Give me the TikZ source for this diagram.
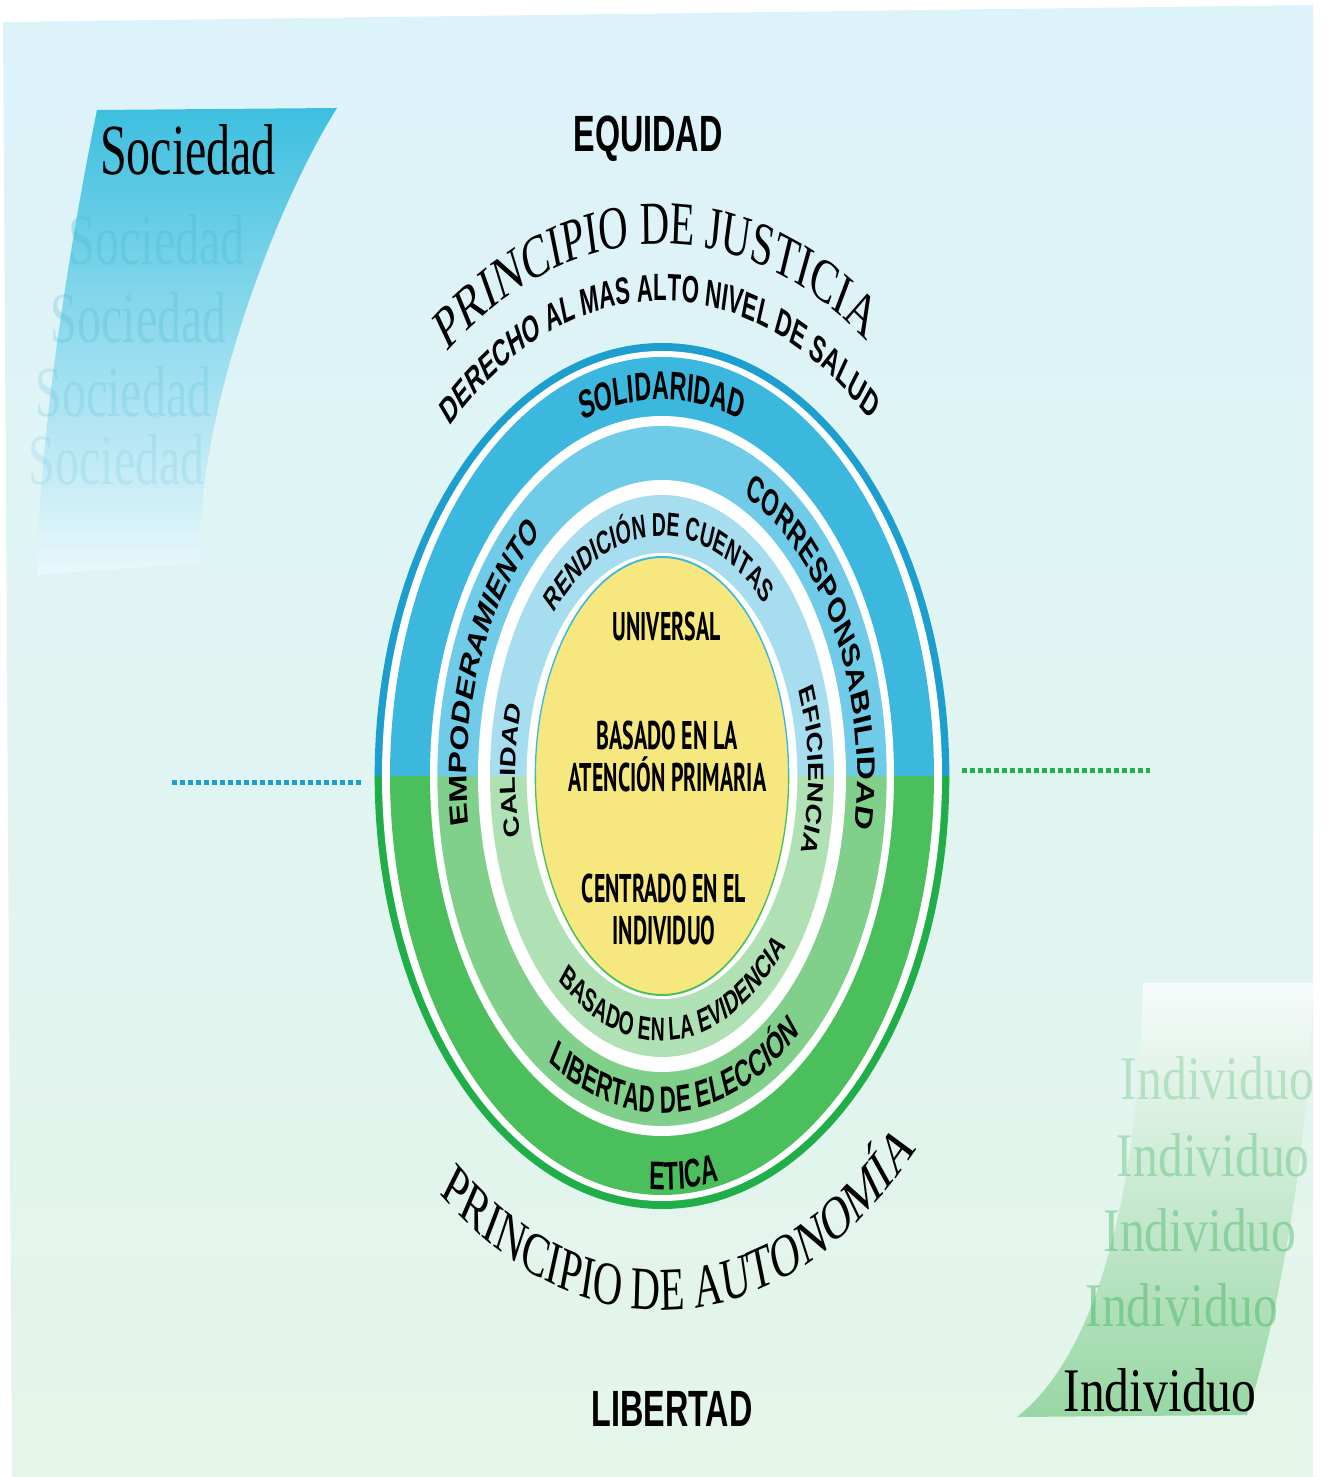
\documentclass[tikz,border=0pt]{standalone}
\usepackage{fontspec}
\setmainfont{Liberation Serif}
\newfontfamily\labelfont[FakeStretch=0.88]{Liberation Sans}
\newfontfamily\titlefont[FakeStretch=0.95]{Liberation Sans}
\newfontfamily\corefont[FakeStretch=0.82]{PT Sans}
\usetikzlibrary{decorations.text}

\definecolor{skytop}{HTML}{DCF3FA}
\definecolor{mist}{HTML}{F6FBFB}
\definecolor{meadow}{HTML}{E4F5E9}
\definecolor{lineblue}{HTML}{1C9ECF}
\definecolor{bandblue}{HTML}{3CB8DF}
\definecolor{skyband}{HTML}{6FCBE7}
\definecolor{paleblue}{HTML}{A6DDEF}
\definecolor{linegreen}{HTML}{1FAE47}
\definecolor{bandgreen}{HTML}{4CBF5D}
\definecolor{leafband}{HTML}{80D08B}
\definecolor{palegreen}{HTML}{B0E1B5}
\definecolor{yolk}{HTML}{F6E87E}
\definecolor{socblue}{HTML}{3DBFDF}
\definecolor{socmid}{HTML}{8CD6EA}
\definecolor{socghost}{HTML}{4AB6D4}
\definecolor{indgreen}{HTML}{98D7A4}
\definecolor{indghost}{HTML}{4DB86B}

% fonts for the curved labels
\newcommand\bandfont{\labelfont\bfseries\fontsize{40}{40}\selectfont}
\newcommand\midfont{\labelfont\bfseries\fontsize{38}{38}\selectfont}
\newcommand\innerfont{\labelfont\bfseries\fontsize{33}{33}\selectfont}
\newcommand\healthfont{\labelfont\bfseries\fontsize{38}{38}\selectfont}
\newcommand\principlefont{\rmfamily\fontsize{61}{61}\selectfont}

% #1 font, #2 text, #3 start angle, #4 end angle, #5 x radius, #6 y radius
\newcommand\ringtext[6]{%
	\path[decorate, decoration={text along path, text align=center, text={|#1|#2}}]
		(#3:#5 and #6) arc[start angle=#3, end angle=#4, x radius=#5, y radius=#6];}

% nested bands, drawn once for each half
\newcommand\ringstack[5]{%
	\fill[#1] (0,0) ellipse [x radius=431, y radius=433];
	\fill[white] (0,0) ellipse [x radius=420, y radius=425];
	\fill[#2] (0,0) ellipse [x radius=408, y radius=419];
	\fill[white] (0,0) ellipse [x radius=348, y radius=360];
	\fill[#3] (0,0) ellipse [x radius=337, y radius=350];
	\fill[white] (0,0) ellipse [x radius=276, y radius=296];
	\fill[#4] (0,0) ellipse [x radius=258, y radius=281];
	\fill[white] (0,0) ellipse [x radius=203, y radius=223];
	\filldraw[fill=yolk, draw=#5, line width=2pt] (0,0) ellipse [x radius=190, y radius=219];}

\begin{document}
\begin{tikzpicture}[x=1pt, y=1pt,
	core/.style={font=\corefont\bfseries\fontsize{40}{42}\selectfont, align=center},
	title/.style={font=\titlefont\bfseries\fontsize{51}{51}\selectfont},
	soc/.style={font=\fontsize{72}{72}\selectfont},
	ind/.style={font=\fontsize{62}{62}\selectfont, xscale=1.2},
	dots/.style={line width=5pt, dash pattern=on 7.5pt off 4.5pt}]

	\useasboundingbox (-662,-701) rectangle (665,776);
	\begin{scope}[transform canvas={xscale=0.66667}]

		% card
		\shade[top color=skytop, middle color=mist, bottom color=meadow]
			(-988.5,754) -- (976.5,771) -- (976.5,-701) -- (-975,-701) -- cycle;

		% side ribbons
		\shade[top color=socblue, middle color=socmid, bottom color=skytop!60!white]
			(-847.5,666) -- (-487.5,668) .. controls (-580,570) and (-700,360) .. (-693,213)
			-- (-937.5,201) .. controls (-935,350) and (-880,560) .. cycle;
		\shade[top color=mist, middle color=indgreen!55!mist, bottom color=indgreen]
			(721.5,-207) -- (976.5,-207) .. controls (975,-330) and (935,-520) .. (877.5,-639)
			-- (532.5,-641) .. controls (650,-580) and (715,-420) .. cycle;

		\foreach \x/\y/\o [count=\i] in {-758/536/0.3, -785/458/0.26, -808/384/0.2, -818/316/0.15}
			\node[soc, text=socghost, opacity=\o] (socghost\i) at (\x,\y) {Sociedad};
		\node[soc] (soc) at (-711,626) {Sociedad};

		\foreach \x/\y/\o [count=\i] in {780/-529/0.5, 807/-454/0.45, 827/-379/0.38, 833/-302/0.3}
			\node[ind, text=indghost, opacity=\o] (indghost\i) at (\x,\y) {Individuo};
		\node[ind] (indiv) at (747,-614) {Individuo};

		% dotted split
		\coordinate (wl) at (-735,-7);
		\coordinate (wr) at (-450,-7);
		\coordinate (el) at (450,5);
		\coordinate (er) at (732,5);
		\draw[dots, lineblue] (wl) -- (wr);
		\draw[dots, linegreen] (el) -- (er);

		% rings: blue above, green below
		\begin{scope}
			\clip (-500,-1) rectangle (500,500);
			\ringstack{lineblue}{bandblue}{skyband}{paleblue}{bandblue}
		\end{scope}
		\begin{scope}
			\clip (-500,-1) rectangle (500,-500);
			\ringstack{linegreen}{bandgreen}{leafband}{palegreen}{bandgreen}
		\end{scope}

		\node[core] (univ) at (7,149) {UNIVERSAL};
		\node[core] (aps) at (8,19) {BASADO EN LA\\ATENCIÓN PRIMARIA};
		\node[core] (person) at (3,-133) {CENTRADO EN EL\\INDIVIDUO};

		\node[title] (equidad) at (-21,637) {EQUIDAD};
		\node[title] (libertad) at (15,-633) {LIBERTAD};

		% labels along the rings
		\ringtext{\principlefont}{PRINCIPIO DE JUSTICIA}{171}{11}{532}{532}
		\ringtext{\healthfont}{DERECHO AL MAS ALTO NIVEL DE SALUD}{170.5}{10.5}{471}{475}
		\ringtext{\bandfont}{SOLIDARIDAD}{160}{20}{364}{376}
		\ringtext{\midfont}{CORRESPONSABILIDAD}{108.4}{-51.6}{293}{309.5}
		\ringtext{\midfont}{EMPODERAMIENTO}{238}{78}{293}{309.5}
		\ringtext{\innerfont}{RENDICIÓN DE CUENTAS}{171.4}{11.4}{219.5}{240}
		\ringtext{\innerfont}{CALIDAD}{258.6}{98.6}{219.5}{240}
		\ringtext{\innerfont}{EFICIENCIA}{81.5}{-78.5}{219.5}{240}
		\ringtext{\innerfont}{BASADO EN LA EVIDENCIA}{195}{355}{243}{265}
		\ringtext{\midfont}{LIBERTAD DE ELECCIÓN}{194}{354}{320}{337}
		\ringtext{\bandfont}{ETICA}{214.7}{334.7}{399}{414}
		\ringtext{\principlefont}{PRINCIPIO DE AUTONOMÍA}{193.5}{353.5}{534}{534}
	\end{scope}
\end{tikzpicture}
\end{document}
